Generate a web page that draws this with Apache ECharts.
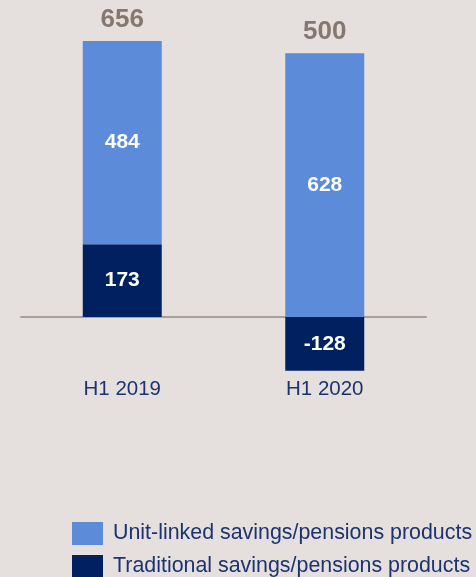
<!DOCTYPE html>
<html><head><meta charset="utf-8">
<script src="https://cdn.jsdelivr.net/npm/echarts@6/dist/echarts.min.js"></script>
<style>html,body{margin:0;padding:0;background:#e5e0dd;}#c{width:476px;height:577px;}</style>
</head><body><div id="c"></div>
<script>
const categories = ['H1 2019', 'H1 2020'];
const traditional = [173, -128];
const unitLinked = [484, 628];
const totals = [656, 500];
const seriesNames = ['Unit-linked savings/pensions products', 'Traditional savings/pensions products'];

// position of total label: top of the positive stack
const stackTop = unitLinked.map((v, i) => v + Math.max(traditional[i], 0));

const chart = echarts.init(document.getElementById('c'));
const font = 'Liberation Sans, Arial, sans-serif';
const legendText = { fontFamily: font, fontSize: 21.4, color: '#1c3370', padding: [0, 0, 0, 5] };
chart.setOption({
  backgroundColor: '#e5e0dd',
  animation: false,
  grid: { left: 21, right: 50, top: 23, bottom: 205.4 },
  legend: [
    { orient: 'vertical', left: 72, top: 522, itemWidth: 31, itemHeight: 23, itemGap: 10,
      icon: 'rect', data: [seriesNames[0]], textStyle: legendText, padding: 0 },
    { orient: 'vertical', left: 72, top: 555, itemWidth: 31, itemHeight: 23, itemGap: 10,
      icon: 'rect', data: [seriesNames[1]], textStyle: legendText, padding: 0 }
  ],
  xAxis: {
    type: 'category', data: categories,
    axisLine: { onZero: true, lineStyle: { color: '#a8a09b', width: 2 } },
    axisTick: { show: false },
    axisLabel: { margin: 7, fontFamily: font, fontSize: 20.5, color: '#1c3370' }
  },
  yAxis: {
    type: 'value', min: -130, max: 700, show: false,
    splitLine: { show: false }
  },
  series: [
    {
      name: seriesNames[1], type: 'bar', stack: 's', barWidth: 79,
      data: traditional,
      itemStyle: { color: '#002060' },
      label: { show: true, position: 'inside', color: '#fff', fontWeight: 'bold', fontSize: 21, fontFamily: font }
    },
    {
      name: seriesNames[0], type: 'bar', stack: 's', barWidth: 79,
      data: unitLinked,
      itemStyle: { color: '#5b8bd9' },
      label: { show: true, position: 'inside', color: '#fff', fontWeight: 'bold', fontSize: 21, fontFamily: font }
    },
    {
      type: 'scatter', data: stackTop, symbolSize: 0, silent: true,
      label: { show: true, position: 'top', distance: 8, color: '#6b5e55', fontWeight: 'bold', fontSize: 26, fontFamily: font,
        formatter: p => String(totals[p.dataIndex]) }
    }
  ]
});
</script></body></html>
